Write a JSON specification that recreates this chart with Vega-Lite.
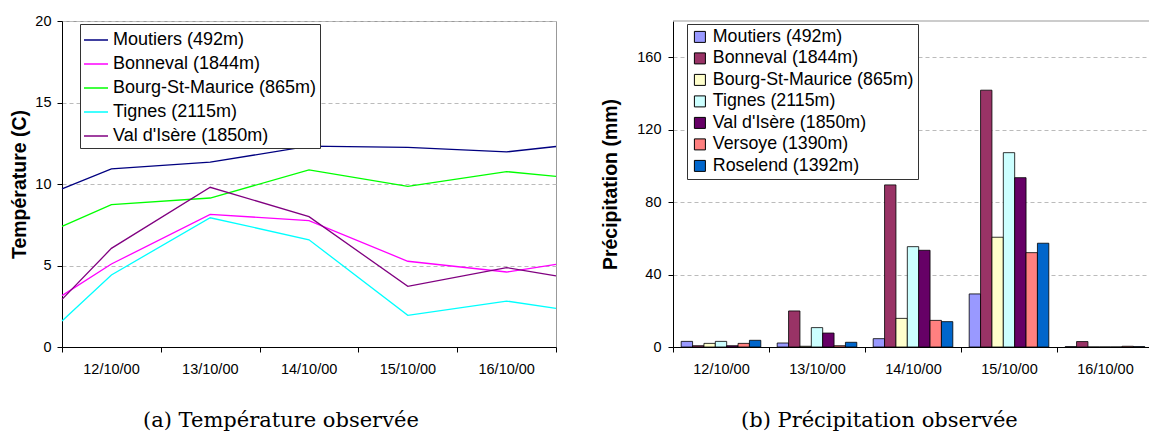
{
  "$schema": "https://vega.github.io/schema/vega-lite/v6.json",
  "padding": {"left": 9, "top": 12, "right": 0, "bottom": 0},
  "background": "white",
  "bounds": "flush",
  "spacing": 117,
  "resolve": {"scale": {"color": "independent"}, "legend": {"color": "independent"}},
  "config": {
    "font": "Liberation Sans",
    "axis": {"labelFont": "Liberation Sans", "titleFont": "Liberation Sans", "labelColor": "black", "titleColor": "black", "domainColor": "black", "tickColor": "black", "labelFontSize": 14.5, "titleFontSize": 19.5, "titleFontWeight": "bold"},
    "legend": {"labelFont": "Liberation Sans", "labelColor": "black", "labelLimit": 400}
  },
  "hconcat": [
    {
      "width": 494,
      "height": 326,
      "title": {"text": "(a) Température observée", "orient": "bottom", "anchor": "start", "frame": "group", "dx": 81, "offset": 34, "baseline": "top", "font": "DejaVu Serif", "fontSize": 21, "fontWeight": "normal", "color": "black"},
      "view": {"stroke": "#999999"},
      "data": {"values": [
        {"station": "Moutiers (492m)", "t": 0, "temp": 9.7},
        {"station": "Moutiers (492m)", "t": 0.5, "temp": 10.93},
        {"station": "Moutiers (492m)", "t": 1.5, "temp": 11.34},
        {"station": "Moutiers (492m)", "t": 2.5, "temp": 12.32},
        {"station": "Moutiers (492m)", "t": 3.5, "temp": 12.25},
        {"station": "Moutiers (492m)", "t": 4.5, "temp": 11.97},
        {"station": "Moutiers (492m)", "t": 5, "temp": 12.3},
        {"station": "Bonneval (1844m)", "t": 0, "temp": 3.15},
        {"station": "Bonneval (1844m)", "t": 0.5, "temp": 5.09},
        {"station": "Bonneval (1844m)", "t": 1.5, "temp": 8.14},
        {"station": "Bonneval (1844m)", "t": 2.5, "temp": 7.75},
        {"station": "Bonneval (1844m)", "t": 3.5, "temp": 5.26},
        {"station": "Bonneval (1844m)", "t": 4.5, "temp": 4.6},
        {"station": "Bonneval (1844m)", "t": 5, "temp": 5.07},
        {"station": "Bourg-St-Maurice (865m)", "t": 0, "temp": 7.4},
        {"station": "Bourg-St-Maurice (865m)", "t": 0.5, "temp": 8.73},
        {"station": "Bourg-St-Maurice (865m)", "t": 1.5, "temp": 9.14},
        {"station": "Bourg-St-Maurice (865m)", "t": 2.5, "temp": 10.86},
        {"station": "Bourg-St-Maurice (865m)", "t": 3.5, "temp": 9.86},
        {"station": "Bourg-St-Maurice (865m)", "t": 4.5, "temp": 10.76},
        {"station": "Bourg-St-Maurice (865m)", "t": 5, "temp": 10.47},
        {"station": "Tignes (2115m)", "t": 0, "temp": 1.6},
        {"station": "Tignes (2115m)", "t": 0.5, "temp": 4.42},
        {"station": "Tignes (2115m)", "t": 1.5, "temp": 7.93},
        {"station": "Tignes (2115m)", "t": 2.5, "temp": 6.58},
        {"station": "Tignes (2115m)", "t": 3.5, "temp": 1.94},
        {"station": "Tignes (2115m)", "t": 4.5, "temp": 2.82},
        {"station": "Tignes (2115m)", "t": 5, "temp": 2.37},
        {"station": "Val d'Isère (1850m)", "t": 0, "temp": 2.92},
        {"station": "Val d'Isère (1850m)", "t": 0.5, "temp": 6.05},
        {"station": "Val d'Isère (1850m)", "t": 1.5, "temp": 9.8},
        {"station": "Val d'Isère (1850m)", "t": 2.5, "temp": 8.0},
        {"station": "Val d'Isère (1850m)", "t": 3.5, "temp": 3.72},
        {"station": "Val d'Isère (1850m)", "t": 4.5, "temp": 4.87},
        {"station": "Val d'Isère (1850m)", "t": 5, "temp": 4.36}
      ]},
      "mark": {"type": "line", "strokeWidth": 1.3},
      "encoding": {
        "x": {"field": "t", "type": "quantitative", "scale": {"domain": [0, 5], "nice": false, "zero": false},
          "axis": {"values": [0, 1, 2, 3, 4, 5], "labelExpr": "datum.value < 5 ? ['12/10/00','13/10/00','14/10/00','15/10/00','16/10/00'][datum.value] : ''", "labelOffset": 49, "labelFlush": false, "labelOverlap": false, "title": null, "grid": false, "tickSize": 5, "labelPadding": 10}},
        "y": {"field": "temp", "type": "quantitative", "scale": {"domain": [0, 20], "nice": false},
          "axis": {"values": [0, 5, 10, 15, 20], "title": "Température (C)", "titlePadding": 5, "grid": true, "gridDash": [4, 3], "gridColor": "#bbbbbb", "tickSize": 5, "labelPadding": 6}},
        "color": {"field": "station", "type": "nominal",
          "scale": {"domain": ["Moutiers (492m)", "Bonneval (1844m)", "Bourg-St-Maurice (865m)", "Tignes (2115m)", "Val d'Isère (1850m)"], "range": ["#000080", "#FF00FF", "#00FF00", "#00FFFF", "#800080"]},
          "legend": {"orient": "none", "legendX": 18, "legendY": 3, "title": null, "symbolType": "stroke", "symbolSize": 576, "symbolStrokeWidth": 1.5, "labelFontSize": 18, "labelOffset": 4, "rowPadding": 2, "padding": 3, "strokeColor": "#333333", "fillColor": "white"}}
      }
    },
    {
      "width": 480,
      "height": 326,
      "title": {"text": "(b) Précipitation observée", "orient": "bottom", "anchor": "start", "frame": "group", "dx": 68, "offset": 34, "baseline": "top", "font": "DejaVu Serif", "fontSize": 21, "fontWeight": "normal", "color": "black"},
      "view": {"stroke": null},
      "layer": [
        {
          "data": {"values": [
            {"date": "12/10/00", "station": "Moutiers (492m)", "mm": 3.1},
            {"date": "12/10/00", "station": "Bonneval (1844m)", "mm": 0.7},
            {"date": "12/10/00", "station": "Bourg-St-Maurice (865m)", "mm": 2.0},
            {"date": "12/10/00", "station": "Tignes (2115m)", "mm": 3.1},
            {"date": "12/10/00", "station": "Val d'Isère (1850m)", "mm": 0.7},
            {"date": "12/10/00", "station": "Versoye (1390m)", "mm": 2.0},
            {"date": "12/10/00", "station": "Roselend (1392m)", "mm": 3.7},
            {"date": "13/10/00", "station": "Moutiers (492m)", "mm": 2.2},
            {"date": "13/10/00", "station": "Bonneval (1844m)", "mm": 19.9},
            {"date": "13/10/00", "station": "Bourg-St-Maurice (865m)", "mm": 0.4},
            {"date": "13/10/00", "station": "Tignes (2115m)", "mm": 10.7},
            {"date": "13/10/00", "station": "Val d'Isère (1850m)", "mm": 7.7},
            {"date": "13/10/00", "station": "Versoye (1390m)", "mm": 0.7},
            {"date": "13/10/00", "station": "Roselend (1392m)", "mm": 2.6},
            {"date": "14/10/00", "station": "Moutiers (492m)", "mm": 4.6},
            {"date": "14/10/00", "station": "Bonneval (1844m)", "mm": 89.5},
            {"date": "14/10/00", "station": "Bourg-St-Maurice (865m)", "mm": 15.8},
            {"date": "14/10/00", "station": "Tignes (2115m)", "mm": 55.4},
            {"date": "14/10/00", "station": "Val d'Isère (1850m)", "mm": 53.4},
            {"date": "14/10/00", "station": "Versoye (1390m)", "mm": 14.7},
            {"date": "14/10/00", "station": "Roselend (1392m)", "mm": 14.0},
            {"date": "15/10/00", "station": "Moutiers (492m)", "mm": 29.3},
            {"date": "15/10/00", "station": "Bonneval (1844m)", "mm": 141.8},
            {"date": "15/10/00", "station": "Bourg-St-Maurice (865m)", "mm": 60.6},
            {"date": "15/10/00", "station": "Tignes (2115m)", "mm": 107.3},
            {"date": "15/10/00", "station": "Val d'Isère (1850m)", "mm": 93.5},
            {"date": "15/10/00", "station": "Versoye (1390m)", "mm": 52.1},
            {"date": "15/10/00", "station": "Roselend (1392m)", "mm": 57.3},
            {"date": "16/10/00", "station": "Moutiers (492m)", "mm": 0.2},
            {"date": "16/10/00", "station": "Bonneval (1844m)", "mm": 3.0},
            {"date": "16/10/00", "station": "Bourg-St-Maurice (865m)", "mm": 0},
            {"date": "16/10/00", "station": "Tignes (2115m)", "mm": 0},
            {"date": "16/10/00", "station": "Val d'Isère (1850m)", "mm": 0},
            {"date": "16/10/00", "station": "Versoye (1390m)", "mm": 0.4},
            {"date": "16/10/00", "station": "Roselend (1392m)", "mm": 0.2}
          ]},
          "mark": {"type": "bar", "stroke": "black", "strokeWidth": 0.8},
          "encoding": {
            "x": {"field": "date", "type": "nominal", "scale": {"paddingInner": 0, "paddingOuter": 0},
              "axis": {"tickBand": "extent", "labelAngle": 0, "title": null, "tickSize": 5, "labelPadding": 10}},
            "xOffset": {"field": "station", "type": "nominal",
              "scale": {"domain": ["Moutiers (492m)", "Bonneval (1844m)", "Bourg-St-Maurice (865m)", "Tignes (2115m)", "Val d'Isère (1850m)", "Versoye (1390m)", "Roselend (1392m)"], "paddingInner": 0, "paddingOuter": 0.72}},
            "y": {"field": "mm", "type": "quantitative", "scale": {"domain": [0, 180], "nice": false},
              "axis": {"values": [0, 40, 80, 120, 160], "title": "Précipitation (mm)", "titlePadding": 16, "grid": true, "gridDash": [4, 3], "gridColor": "#bbbbbb", "tickSize": 5, "labelPadding": 7}},
            "color": {"field": "station", "type": "nominal",
              "scale": {"domain": ["Moutiers (492m)", "Bonneval (1844m)", "Bourg-St-Maurice (865m)", "Tignes (2115m)", "Val d'Isère (1850m)", "Versoye (1390m)", "Roselend (1392m)"], "range": ["#9999FF", "#993366", "#FFFFCC", "#CCFFFF", "#660066", "#FF8080", "#0066CC"]},
              "legend": {"orient": "none", "legendX": 14, "legendY": 3, "title": null, "symbolType": "square", "symbolSize": 121, "symbolStrokeColor": "black", "symbolStrokeWidth": 1, "labelFontSize": 17.8, "labelOffset": 4, "rowPadding": 2.5, "padding": 4, "strokeColor": "#333333", "fillColor": "white"}}
          }
        },
        {
          "data": {"values": [{"top": 180}]},
          "mark": {"type": "rule", "color": "#999999", "strokeWidth": 1},
          "encoding": {"y": {"field": "top", "type": "quantitative"}}
        }
      ]
    }
  ]
}
